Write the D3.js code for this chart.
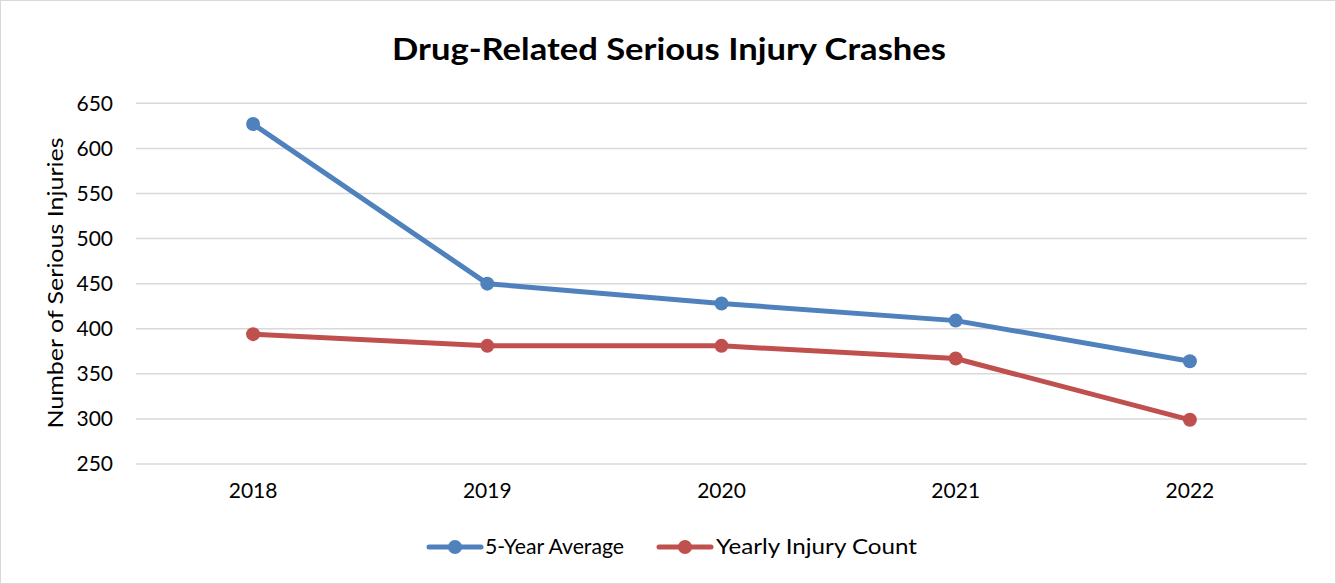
<!DOCTYPE html>
<html><head><meta charset="utf-8">
<script src="https://cdn.jsdelivr.net/npm/d3@7"></script>
<style>body{margin:0;background:#fff}svg{display:block}</style>
</head><body>
<script>
const categories = ["2018","2019","2020","2021","2022"];
const fiveYearAverage = [627, 450, 428, 409, 364];
const yearlyInjuryCount = [394, 381, 381, 367, 299];
const yTicks = [250,300,350,400,450,500,550,600,650];
const seriesNames = ["5-Year Average","Yearly Injury Count"];
const colors = ["#4f81bd","#c0504d"];
const titleText = "Drug-Related Serious Injury Crashes";
const yTitle = "Number of Serious Injuries";

(function(){
const W=1336,H=584;
const font="Lato, 'Open Sans', sans-serif";
const svg=d3.select("body").append("svg").attr("width",W).attr("height",H);
svg.append("rect").attr("x",0.5).attr("y",0.5).attr("width",W-1).attr("height",H-1).attr("fill","#fff").attr("stroke","#d9d9d9");

const pL=136,pR=1307,pT=103.3,pB=464;
const x=d3.scaleBand().domain(categories).range([pL,pR]);
const y=d3.scaleLinear().domain([250,650]).range([pB,pT]);

svg.append("g").selectAll("line").data(yTicks).join("line")
 .attr("x1",pL).attr("x2",pR).attr("y1",d=>y(d)).attr("y2",d=>y(d))
 .attr("stroke","#d9d9d9").attr("stroke-width",1.5);

const ya=svg.append("g").attr("transform",`translate(${pL},0)`)
 .call(d3.axisLeft(y).tickValues(yTicks).tickSize(0).tickPadding(23));
ya.select(".domain").remove();
ya.selectAll("text").attr("font-family",font).attr("font-size",21).attr("fill","#000");

const xa=svg.append("g").attr("transform",`translate(0,${pB})`)
 .call(d3.axisBottom(x).tickSize(0).tickPadding(19));
xa.select(".domain").remove();
xa.selectAll("text").attr("font-family",font).attr("font-size",21).attr("fill","#000");

svg.append("text").attr("x",(392+946)/2).attr("y",60).attr("text-anchor","middle")
 .attr("font-family",font).attr("font-weight","bold").attr("font-size",31).attr("fill","#000")
 .attr("textLength",554).attr("lengthAdjust","spacingAndGlyphs").text(titleText);

svg.append("text").attr("transform",`translate(63,283) rotate(-90)`).attr("text-anchor","middle")
 .attr("font-family",font).attr("font-size",22).attr("fill","#000")
 .attr("textLength",291).attr("lengthAdjust","spacingAndGlyphs").text(yTitle);

const series=[fiveYearAverage,yearlyInjuryCount];
const line=d3.line().x((d,i)=>x(categories[i])+x.bandwidth()/2).y(d=>y(d));
series.forEach((s,k)=>{
 svg.append("path").datum(s).attr("d",line).attr("fill","none")
  .attr("stroke",colors[k]).attr("stroke-width",5).attr("stroke-linejoin","round").attr("stroke-linecap","round");
 svg.append("g").selectAll("circle").data(s).join("circle")
  .attr("cx",(d,i)=>x(categories[i])+x.bandwidth()/2).attr("cy",d=>y(d)).attr("r",7).attr("fill",colors[k]);
});

const legX=[429,659], legTextX=[485,716], legW=[139,201];
const ly=547;
seriesNames.forEach((n,k)=>{
 svg.append("line").attr("x1",legX[k]).attr("x2",legX[k]+52).attr("y1",ly).attr("y2",ly)
  .attr("stroke",colors[k]).attr("stroke-width",5).attr("stroke-linecap","round");
 svg.append("circle").attr("cx",legX[k]+26).attr("cy",ly).attr("r",7).attr("fill",colors[k]);
 svg.append("text").attr("x",legTextX[k]).attr("y",ly+7).attr("font-family",font).attr("font-size",21)
  .attr("fill","#000").attr("textLength",legW[k]).attr("lengthAdjust","spacingAndGlyphs").text(n);
});
})();
</script>
</body></html>
